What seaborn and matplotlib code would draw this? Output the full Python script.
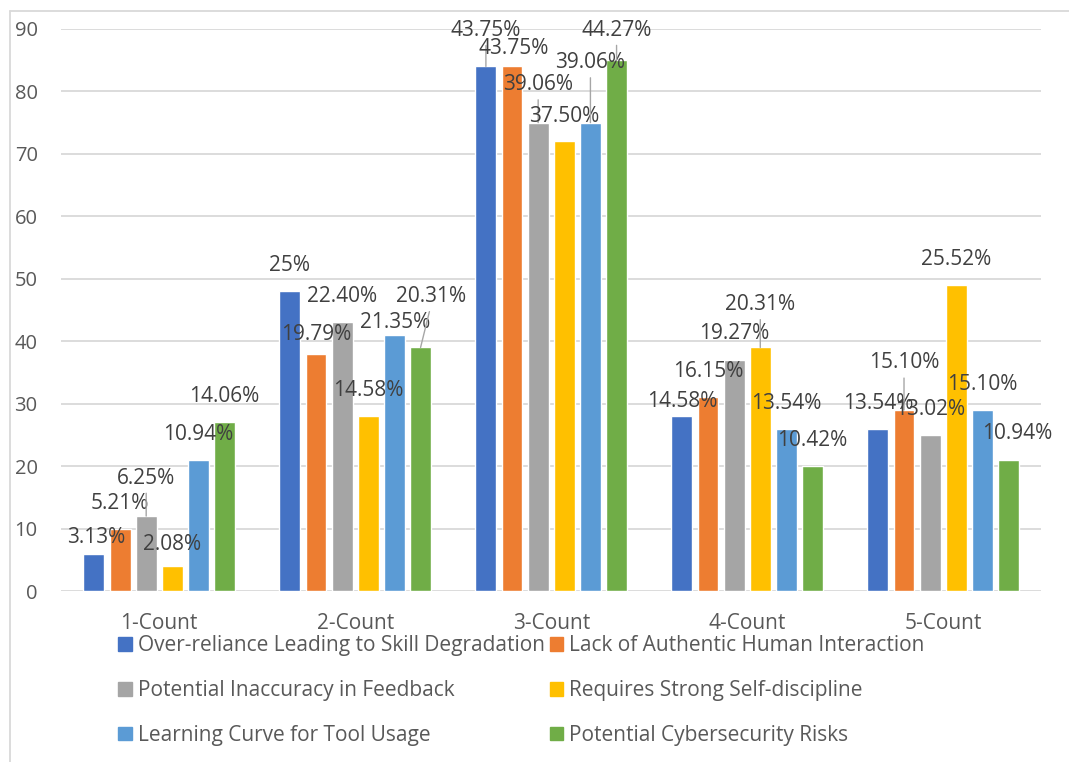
import matplotlib
matplotlib.use("Agg")
import matplotlib.pyplot as plt
from matplotlib.lines import Line2D
import seaborn as sns
import pandas as pd

# ---- data ----
categories = ["1-Count", "2-Count", "3-Count", "4-Count", "5-Count"]
series = [
    "Over-reliance Leading to Skill Degradation",
    "Lack of Authentic Human Interaction",
    "Potential Inaccuracy in Feedback",
    "Requires Strong Self-discipline",
    "Learning Curve for Tool Usage",
    "Potential Cybersecurity Risks",
]
over_reliance = [6, 48, 84, 28, 26]
lack_interaction = [10, 38, 84, 31, 29]
inaccuracy = [12, 43, 75, 37, 25]
self_discipline = [4, 28, 72, 39, 49]
learning_curve = [21, 41, 75, 26, 29]
cybersecurity = [27, 39, 85, 20, 21]

pct_over_reliance = ["3.13%", "25%", "43.75%", "14.58%", "13.54%"]
pct_lack_interaction = ["5.21%", "19.79%", "43.75%", "16.15%", "15.10%"]
pct_inaccuracy = ["6.25%", "22.40%", "39.06%", "19.27%", "13.02%"]
pct_self_discipline = ["2.08%", "14.58%", "37.50%", "20.31%", "25.52%"]
pct_learning_curve = ["10.94%", "21.35%", "39.06%", "13.54%", "15.10%"]
pct_cybersecurity = ["14.06%", "20.31%", "44.27%", "10.42%", "10.94%"]

counts = [over_reliance, lack_interaction, inaccuracy,
          self_discipline, learning_curve, cybersecurity]
pcts = [pct_over_reliance, pct_lack_interaction, pct_inaccuracy,
        pct_self_discipline, pct_learning_curve, pct_cybersecurity]

colors = ["#4472C4", "#ED7D31", "#A5A5A5", "#FFC000", "#5B9BD5", "#70AD47"]

# label placement (pixel offsets from the top centre of each bar) and leader flags
label_dx = [
    [2, 0, 0, 0, 0, 0],
    [0, 0, 0, 0, 1, 10],
    [0, 2, 0, 0, 0, 0],
    [0, 0, 0, 0, 0, 0],
    [0, 0, 0, 0, 0, 9],
]
label_dy = [
    [16, 25, 38, 22, 25, 26],
    [26, 19, 26, 26, 12, 51],
    [36, 18, 38, 25, 60, 30],
    [15, 26, 26, 43, 25, 26],
    [25, 47, 25, 26, 25, 26],
]
leaders = [
    [0, 0, 1, 0, 0, 0],
    [0, 0, 0, 0, 0, 1],
    [1, 0, 1, 0, 1, 1],
    [0, 0, 0, 1, 0, 0],
    [0, 1, 0, 0, 0, 0],
]

rows = []
for s, vals in zip(series, counts):
    for c, v in zip(categories, vals):
        rows.append({"category": c, "series": s, "count": v})
df = pd.DataFrame(rows)

sns.set_theme(style="white")
plt.rcParams["font.family"] = ["Open Sans", "DejaVu Sans"]

FS = 15

fig = plt.figure(figsize=(10.69, 7.62), dpi=100)
ax = fig.add_axes([0.0573, 0.2244, 0.9167, 0.7376])

sns.barplot(data=df, x="category", y="count", hue="series",
            order=categories, hue_order=series, palette=colors,
            width=0.8, gap=0.2, saturation=1, legend=False, ax=ax)

ax.set_ylim(0, 90)
ax.set_yticks(range(0, 91, 10))
ax.set_xlabel("")
ax.set_ylabel("")
for sp in ax.spines.values():
    sp.set_visible(False)
ax.yaxis.grid(True, color="#d9d9d9", lw=1.3)
ax.set_axisbelow(True)
ax.tick_params(axis="y", length=0, pad=17, labelsize=14.5, labelcolor="#595959")
ax.tick_params(axis="x", length=0, pad=16, labelsize=FS, labelcolor="#595959")
ax.set_xlim(-0.5, len(categories) - 0.5)

# data labels
for j, cont in enumerate(ax.containers):
    for i, bar in enumerate(cont):
        bx = bar.get_x() + bar.get_width() / 2
        by = bar.get_height()
        ap = None
        if leaders[i][j]:
            ap = dict(arrowstyle="-", color="#a6a6a6", lw=1.0,
                      relpos=(0.5, 0.0), shrinkA=1, shrinkB=0)
        ax.annotate(pcts[j][i], xy=(bx, by),
                    xytext=(label_dx[i][j], label_dy[i][j]),
                    textcoords="offset pixels", ha="center", va="center",
                    fontsize=FS, color="#404040", arrowprops=ap, zorder=5)

# legend, row by row in two columns
handles = [plt.Rectangle((0, 0), 1, 1, color=c) for c in colors]
order = [0, 2, 4, 1, 3, 5]
fig.legend([handles[k] for k in order], [series[k] for k in order],
           ncol=2, loc="upper left", bbox_to_anchor=(0.103, 0.177),
           frameon=False, fontsize=FS, labelcolor="#595959",
           handlelength=0.63, handleheight=0.63, handletextpad=0.3,
           columnspacing=0.25, labelspacing=1.14, borderaxespad=0)

# chart frame
fig.add_artist(Line2D([0.009, 0.009], [0.0, 0.9856], transform=fig.transFigure,
                      color="#d9d9d9", lw=1.3))
fig.add_artist(Line2D([0.009, 1.0], [0.9856, 0.9856], transform=fig.transFigure,
                      color="#d9d9d9", lw=1.3))

fig.savefig("out.png", dpi=100)
